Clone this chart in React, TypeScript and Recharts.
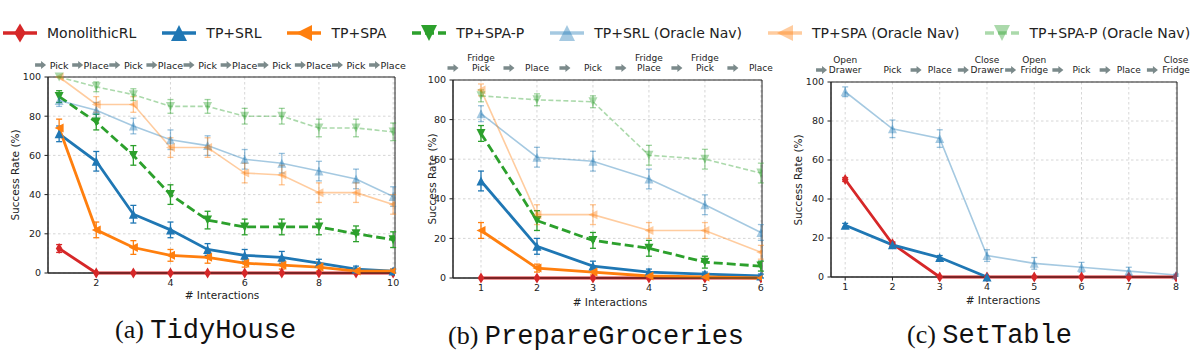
import React from 'react';
import { LineChart, Line, XAxis, YAxis, CartesianGrid, ErrorBar, ReferenceArea } from 'recharts';

const BLUE = '#1f77b4';
const ORANGE = '#ff7f0e';
const GREEN = '#2ca02c';
const RED = '#d62728';
const ARROW = '#7b8a8b';
const FONT = '"DejaVu Sans", sans-serif';

// ---------- (a) TidyHouse ----------
const tidyX = [1, 2, 3, 4, 5, 6, 7, 8, 9, 10];
const tidyActions = ['Pick', 'Place', 'Pick', 'Place', 'Pick', 'Place', 'Pick', 'Place', 'Pick', 'Place'];
const tidyXTicks = [2, 4, 6, 8, 10];
const tidyMono = [12.5, 0, 0, 0, 0, 0, 0, 0, 0, 0];
const tidyMonoErr = [2, 0, 0, 0, 0, 0, 0, 0, 0, 0];
const tidySrl = [71, 57, 30, 22, 12, 9, 8, 5, 2, 1];
const tidySrlErr = [4, 5, 4.5, 4, 3, 3, 3, 2, 1.5, 1];
const tidySpa = [74, 22, 13, 9, 8, 5, 4, 3, 1, 1];
const tidySpaErr = [4.5, 4, 3.5, 3, 3, 2, 2, 2, 1, 1];
const tidySpaP = [90, 77, 60, 40, 27, 23.5, 23.5, 23.5, 20, 17];
const tidySpaPErr = [3, 4, 5, 5, 4.5, 4, 4, 4, 4, 4];
const tidySrlO = [88, 83, 75, 68, 65, 58, 56, 52, 48, 39];
const tidySrlOErr = [3, 4, 4, 5, 5, 5, 5, 5, 5, 5];
const tidySpaO = [100, 86, 86, 64, 64, 51, 50, 41, 41, 35];
const tidySpaOErr = [0, 4, 4, 5, 5, 5, 5, 5, 5, 5];
const tidySpaPO = [100, 95, 91, 85, 85, 80, 80, 74, 74, 72];
const tidySpaPOErr = [0, 2.5, 3, 3.5, 3.5, 4, 4, 4.5, 4.5, 4.5];

// ---------- (b) PrepareGroceries ----------
const grocX = [1, 2, 3, 4, 5, 6];
const grocActions = ['Fridge\nPick', 'Place', 'Pick', 'Fridge\nPlace', 'Fridge\nPick', 'Place'];
const grocXTicks = [1, 2, 3, 4, 5, 6];
const grocMono = [0, 0, 0, 0, 0, 0];
const grocMonoErr = [0, 0, 0, 0, 0, 0];
const grocSrl = [49, 16, 6, 3, 2, 1];
const grocSrlErr = [5, 4, 2.5, 1.5, 1, 1];
const grocSpa = [24, 5, 3, 1, 0.5, 0];
const grocSpaErr = [4, 2, 1.5, 1, 0.5, 0];
const grocSpaP = [73, 29, 19, 15, 8, 6];
const grocSpaPErr = [4, 5, 4, 4, 3, 2.5];
const grocSrlO = [83, 61, 59, 50, 37, 23];
const grocSrlOErr = [4, 5, 5, 5, 5, 4];
const grocSpaO = [95, 32, 32, 24, 24, 13];
const grocSpaOErr = [3, 5, 5, 4, 4, 3.5];
const grocSpaPO = [92, 90, 89, 62, 60, 53];
const grocSpaPOErr = [3, 3, 3, 5, 5, 5];

// ---------- (c) SetTable ----------
const setX = [1, 2, 3, 4, 5, 6, 7, 8];
const setActions = ['Open\nDrawer', 'Pick', 'Place', 'Close\nDrawer', 'Open\nFridge', 'Pick', 'Place', 'Close\nFridge'];
const setXTicks = [1, 2, 3, 4, 5, 6, 7, 8];
const setNoArrowBefore = [2];
const setMono = [50, 17, 0, 0, 0, 0, 0, 0];
const setMonoErr = [1, 1, 0, 0, 0, 0, 0, 0];
const setSrl = [26.5, 16.5, 10, 0, null, null, null, null];
const setSrlErr = [1, 1, 1, 0, null, null, null, null];
const setSrlO = [95, 76, 71, 11, 7, 5, 3, 1];
const setSrlOErr = [2.5, 4.5, 4.5, 3, 3, 2.5, 2, 0.5];

const yTicks = [0, 20, 40, 60, 80, 100];

type Series = { key: string; name: string; color: string; marker: string; oracle: boolean; dashed: boolean };
const SERIES: Series[] = [
  { key: 'mono', name: 'MonolithicRL', color: RED, marker: 'd', oracle: false, dashed: false },
  { key: 'srl', name: 'TP+SRL', color: BLUE, marker: '^', oracle: false, dashed: false },
  { key: 'spa', name: 'TP+SPA', color: ORANGE, marker: '<', oracle: false, dashed: false },
  { key: 'spap', name: 'TP+SPA-P', color: GREEN, marker: 'v', oracle: false, dashed: true },
  { key: 'srlO', name: 'TP+SRL (Oracle Nav)', color: BLUE, marker: '^', oracle: true, dashed: false },
  { key: 'spaO', name: 'TP+SPA (Oracle Nav)', color: ORANGE, marker: '<', oracle: true, dashed: false },
  { key: 'spapO', name: 'TP+SPA-P (Oracle Nav)', color: GREEN, marker: 'v', oracle: true, dashed: true },
];

type Row = Record<string, number | null>;
function buildRows(xs: number[], series: Record<string, [(number | null)[], (number | null)[]]>): Row[] {
  return xs.map((x, i) => {
    const r: Row = { x };
    Object.keys(series).forEach((k) => {
      r[k] = series[k][0][i];
      r[k + 'Err'] = series[k][1][i];
    });
    return r;
  });
}

const tidyRows = buildRows(tidyX, {
  mono: [tidyMono, tidyMonoErr], srl: [tidySrl, tidySrlErr], spa: [tidySpa, tidySpaErr], spap: [tidySpaP, tidySpaPErr],
  srlO: [tidySrlO, tidySrlOErr], spaO: [tidySpaO, tidySpaOErr], spapO: [tidySpaPO, tidySpaPOErr],
});
const grocRows = buildRows(grocX, {
  mono: [grocMono, grocMonoErr], srl: [grocSrl, grocSrlErr], spa: [grocSpa, grocSpaErr], spap: [grocSpaP, grocSpaPErr],
  srlO: [grocSrlO, grocSrlOErr], spaO: [grocSpaO, grocSpaOErr], spapO: [grocSpaPO, grocSpaPOErr],
});
const setRows = buildRows(setX, {
  mono: [setMono, setMonoErr], srl: [setSrl, setSrlErr], srlO: [setSrlO, setSrlOErr],
});

function markerPath(shape: string, cx: number, cy: number, s: number): string {
  const h = s / 2;
  switch (shape) {
    case 'd': {
      const w = s * 0.3;
      return `M${cx},${cy - h}L${cx + w},${cy}L${cx},${cy + h}L${cx - w},${cy}Z`;
    }
    case '^':
      return `M${cx},${cy - h}L${cx + h},${cy + h}L${cx - h},${cy + h}Z`;
    case 'v':
      return `M${cx},${cy + h}L${cx + h},${cy - h}L${cx - h},${cy - h}Z`;
    default:
      return `M${cx - h},${cy}L${cx + h},${cy - h}L${cx + h},${cy + h}Z`;
  }
}

function arrowPath(cx: number, cy: number): string {
  return `M${cx - 5.5},${cy - 1.8}L${cx + 0.5},${cy - 1.8}L${cx + 0.5},${cy - 4}L${cx + 5.5},${cy}L${cx + 0.5},${cy + 4}L${cx + 0.5},${cy + 1.8}L${cx - 5.5},${cy + 1.8}Z`;
}

function makeTopTick(labels: string[], fontSize: number) {
  return (p: any) => {
    const v = Number(p.payload.value);
    const x = p.x;
    const y = p.y - 12;
    const k = `t${v}`;
    if (Math.abs(v - Math.round(v)) > 0.01) {
      return <path key={k} d={arrowPath(x, y)} fill={ARROW} />;
    }
    const lines = labels[Math.round(v) - 1].split('\n');
    return (
      <g key={k}>
        {lines.map((t, i) => (
          <text key={i} x={x} y={y - (lines.length - 1 - i) * 10} textAnchor="middle" dominantBaseline="central" fontSize={fontSize} fill="#222" fontFamily={FONT}>
            {t}
          </text>
        ))}
      </g>
    );
  };
}

function makeDot(s: Series) {
  const size = s.marker === 'd' ? 11 : 9;
  return (p: any) => {
    const k = `d${p.index}`;
    if (p.cx == null || p.cy == null || p.value == null || Number.isNaN(p.cy)) return <g key={k} />;
    return <path key={k} d={markerPath(s.marker, p.cx, p.cy, size)} fill={s.color} fillOpacity={s.oracle ? 0.4 : 1} stroke="none" />;
  };
}

type PanelProps = {
  rows: Row[]; keys: string[]; actions: string[]; xs: number[]; xTicks: number[]; skipArrow?: number[];
  domain: [number, number]; left: number; top: number; width: number; height: number;
  margin: { top: number; right: number; bottom: number; left: number }; yWidth: number; topFont: number;
};

function Panel(props: PanelProps) {
  const { rows, keys, actions, xs, xTicks, skipArrow = [], domain, left, top, width, height, margin, yWidth, topFont } = props;
  const topTicks: number[] = [];
  xs.forEach((x) => {
    if (!skipArrow.includes(x)) topTicks.push(x - 0.5);
    topTicks.push(x);
  });
  return (
    <div style={{ position: 'absolute', left, top, width, height }}>
      <LineChart width={width} height={height} data={rows} margin={margin}>
        <CartesianGrid stroke="#cccccc" strokeDasharray="2.5 2.5" strokeWidth={0.8} />
        <XAxis dataKey="x" type="number" domain={domain} allowDataOverflow ticks={xTicks} interval={0} tickSize={3.5} tickMargin={3} height={20} stroke="#222" tick={{ fontSize: 9.5, fill: '#222', fontFamily: FONT }} />
        <XAxis xAxisId="top" orientation="top" dataKey="x" type="number" domain={domain} allowDataOverflow ticks={topTicks} interval={0} tickSize={0} tickMargin={0} height={30} axisLine={false} tickLine={false} tick={makeTopTick(actions, topFont)} />
        <YAxis type="number" domain={[0, 100]} ticks={yTicks} interval={0} width={yWidth} tickSize={3.5} tickMargin={3.5} stroke="#222" tick={{ fontSize: 9.5, fill: '#222', fontFamily: FONT }} />
        <ReferenceArea x1={domain[0]} x2={domain[1]} y1={0} y2={100} fill="none" stroke="#222" strokeWidth={1} ifOverflow="visible" />
        {SERIES.filter((s) => keys.includes(s.key)).map((s) => (
          <Line
            key={s.key}
            dataKey={s.key}
            type="linear"
            stroke={s.color}
            strokeOpacity={s.oracle ? 0.4 : 1}
            strokeWidth={s.oracle ? 1.6 : 2.8}
            strokeDasharray={s.dashed ? (s.oracle ? '5 2.5' : '9 4') : undefined}
            dot={makeDot(s)}
            activeDot={false}
            isAnimationActive={false}
            connectNulls={false}
          >
            <ErrorBar dataKey={s.key + 'Err'} direction="y" width={3} stroke={s.color} strokeOpacity={s.oracle ? 0.45 : 1} strokeWidth={1.3} isAnimationActive={false} />
          </Line>
        ))}
      </LineChart>
    </div>
  );
}

function Txt(props: { x: number; y: number; size: number; rotate?: boolean; children: React.ReactNode }) {
  return (
    <div
      style={{
        position: 'absolute', left: props.x, top: props.y, fontSize: props.size, lineHeight: 1, whiteSpace: 'nowrap', color: '#222',
        transform: `translate(-50%, -50%)${props.rotate ? ' rotate(-90deg)' : ''}`, fontFamily: FONT,
      }}
    >
      {props.children}
    </div>
  );
}

function Caption(props: { x: number; y: number; tag: string; name: string }) {
  return (
    <div style={{ position: 'absolute', left: props.x, top: props.y, transform: 'translateY(-50%)', whiteSpace: 'nowrap', color: '#111', lineHeight: 1 }}>
      <span style={{ fontFamily: '"Liberation Serif", serif', fontSize: 26 }}>{props.tag} </span>
      <span style={{ fontFamily: '"Liberation Mono", monospace', fontSize: 27 }}>{props.name}</span>
    </div>
  );
}

function Legend() {
  return (
    <div style={{ position: 'absolute', left: 3, top: 22, width: 1200, height: 22, display: 'flex', flexWrap: 'nowrap', alignItems: 'center', fontFamily: FONT, fontSize: 14, color: '#222', whiteSpace: 'nowrap' }}>
      {SERIES.map((s, i) => {
        const op = s.oracle ? 0.4 : 1;
        return (
          <div key={s.key} style={{ display: 'flex', alignItems: 'center', flexShrink: 0, marginRight: i === SERIES.length - 1 ? 0 : 26 }}>
            <svg width={34} height={22} style={{ marginRight: 10, display: 'block', flexShrink: 0 }}>
              <line x1={0} x2={34} y1={11} y2={11} stroke={s.color} strokeOpacity={op} strokeWidth={3.4} strokeDasharray={s.dashed ? '9 4' : undefined} />
              <path d={markerPath(s.marker, 17, 11, s.marker === 'd' ? 19 : 16)} fill={s.color} fillOpacity={op} />
            </svg>
            <span style={{ whiteSpace: 'nowrap' }}>{s.name}</span>
          </div>
        );
      })}
    </div>
  );
}

export default function App() {
  return (
    <div style={{ position: 'absolute', left: 0, top: 0, width: 1200, height: 356, background: '#fff', overflow: 'hidden', fontFamily: FONT }}>
      <Legend />
      <Panel rows={tidyRows} keys={['mono', 'srl', 'spa', 'spap', 'srlO', 'spaO', 'spapO']} actions={tidyActions} xs={tidyX} xTicks={tidyXTicks}
        domain={[0.7, 10.05]} left={0} top={30} width={410} height={270} margin={{ top: 17, right: 15, bottom: 7, left: 8 }} yWidth={40} topFont={9.5} />
      <Panel rows={grocRows} keys={['mono', 'srl', 'spa', 'spap', 'srlO', 'spaO', 'spapO']} actions={grocActions} xs={grocX} xTicks={grocXTicks}
        domain={[0.5, 6.02]} left={410} top={30} width={380} height={275} margin={{ top: 20, right: 28, bottom: 7, left: 8 }} yWidth={35} topFont={9} />
      <Panel rows={setRows} keys={['mono', 'srl', 'srlO']} actions={setActions} xs={setX} xTicks={setXTicks} skipArrow={setNoArrowBefore}
        domain={[0.7, 8.02]} left={790} top={30} width={410} height={275} margin={{ top: 22, right: 23, bottom: 8, left: 6 }} yWidth={35} topFont={9} />
      <Txt x={15} y={175} size={10.5} rotate>Success Rate (%)</Txt>
      <Txt x={432} y={179} size={10.5} rotate>Success Rate (%)</Txt>
      <Txt x={798} y={180} size={10.5} rotate>Success Rate (%)</Txt>
      <Txt x={222} y={295} size={10.5}># Interactions</Txt>
      <Txt x={610} y={302} size={10.5}># Interactions</Txt>
      <Txt x={1003} y={300} size={10.5}># Interactions</Txt>
      <Caption x={115} y={331} tag="(a)" name="TidyHouse" />
      <Caption x={448} y={337} tag="(b)" name="PrepareGroceries" />
      <Caption x={907} y={336} tag="(c)" name="SetTable" />
    </div>
  );
}
